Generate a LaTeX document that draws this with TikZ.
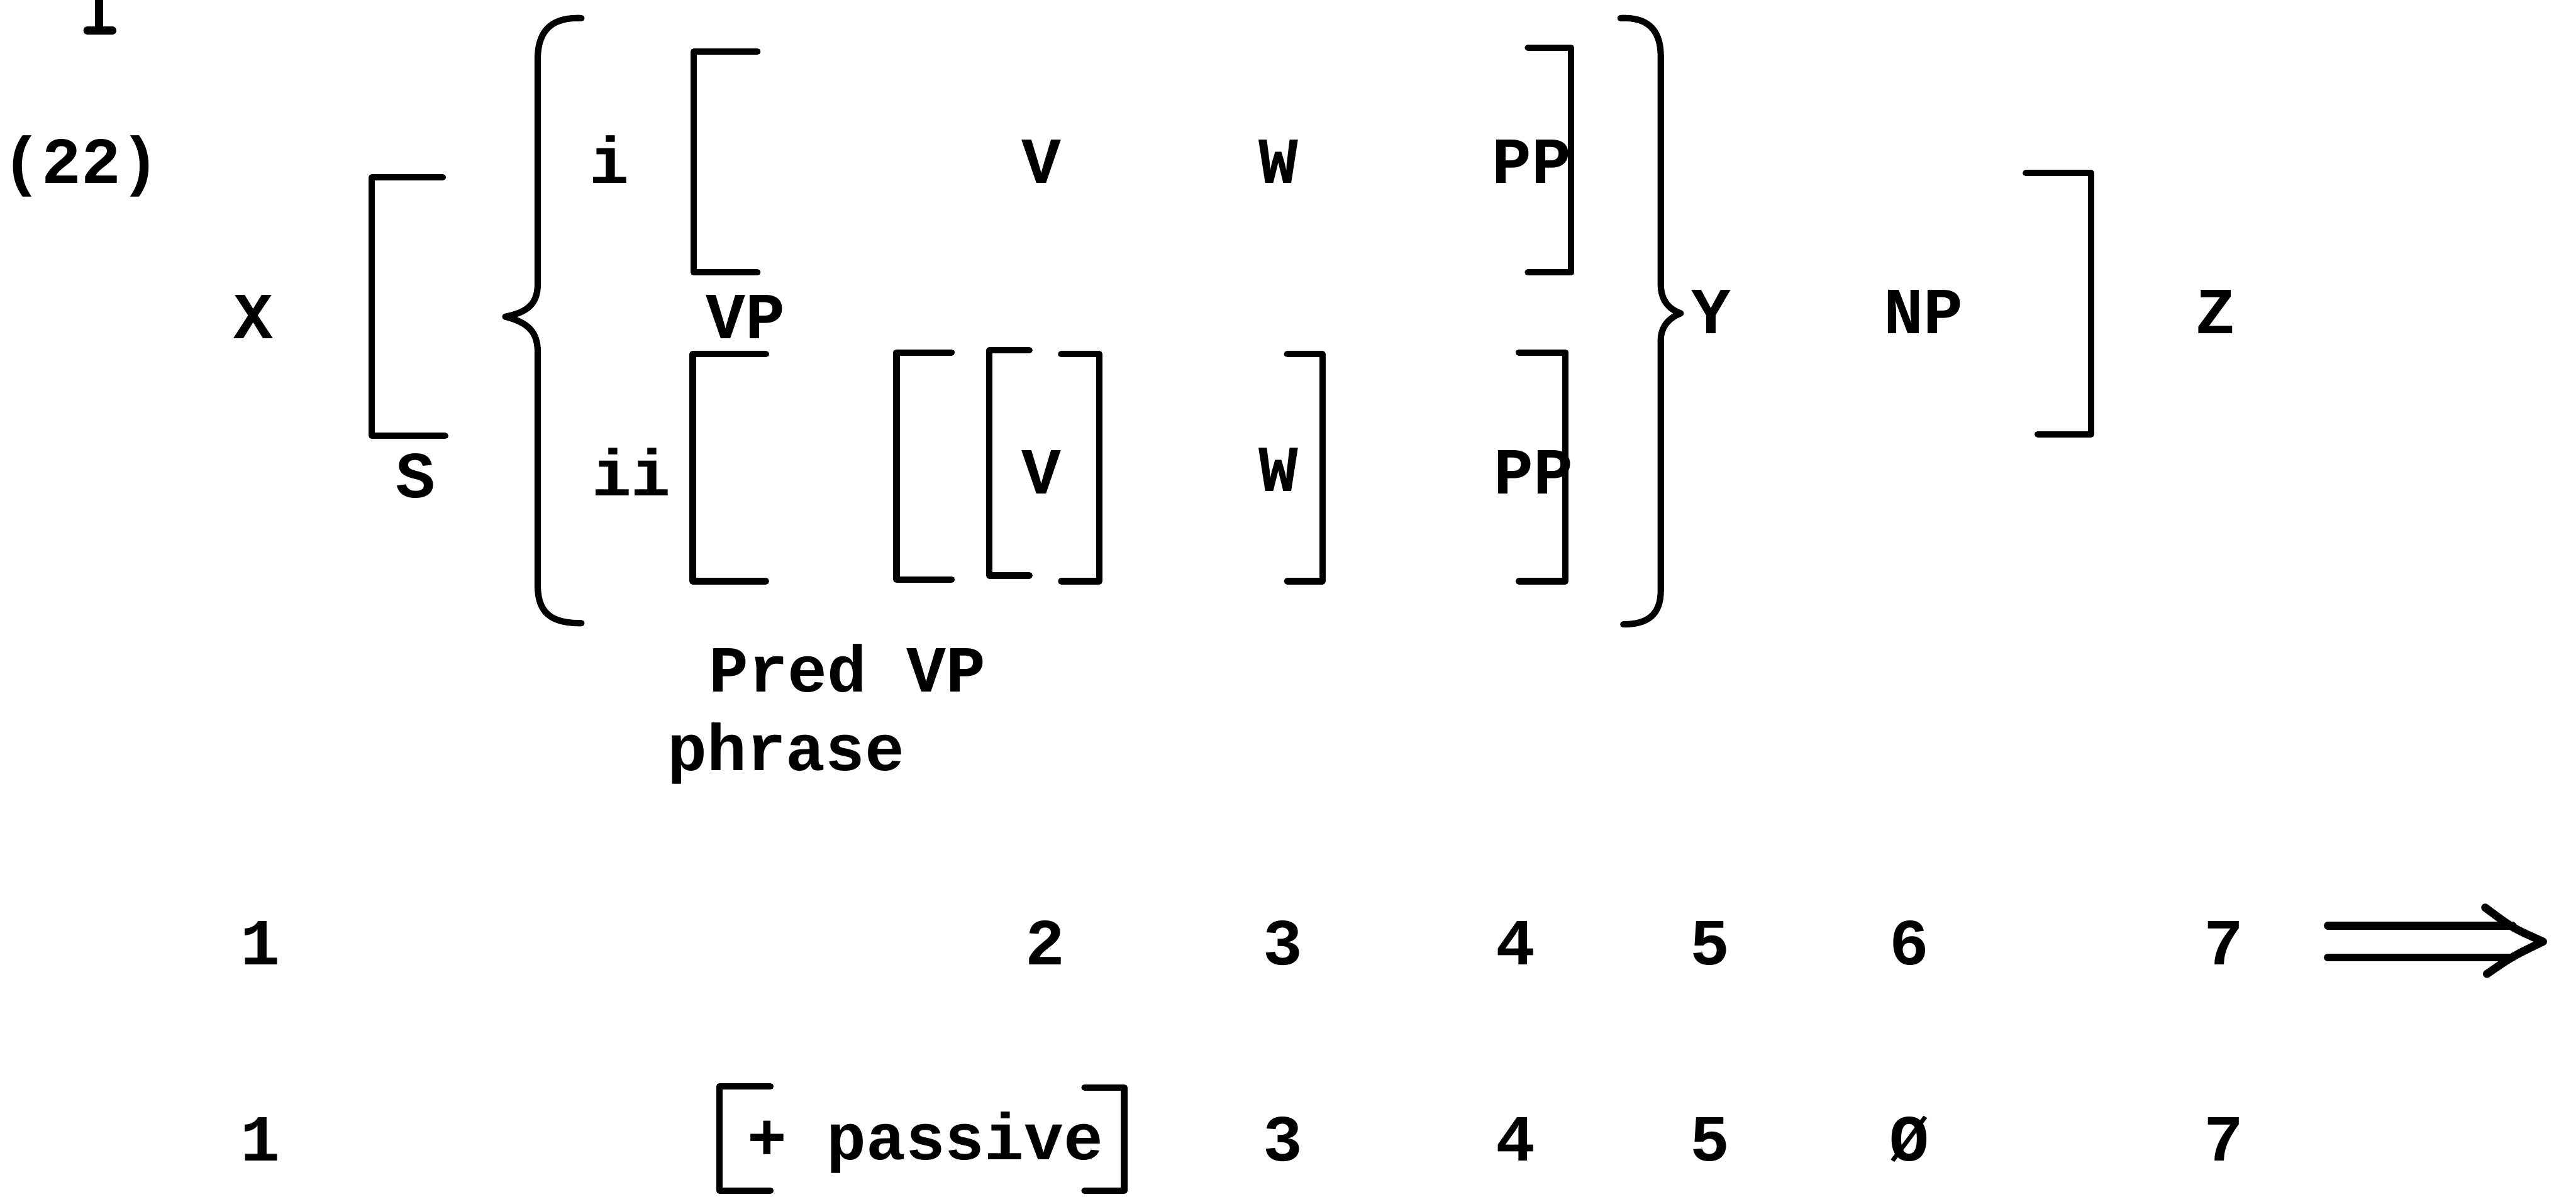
\documentclass[tikz,border=0pt]{standalone}
\usepackage{fontspec}
\setmonofont{Liberation Mono}
\usepackage{tikz}

\begin{document}
\begin{tikzpicture}[x=1cm, y=1cm]
    \tikzstyle{sym} = [font=\ttfamily\bfseries\fontsize{33}{40}\selectfont, inner sep=0pt, anchor=base]
    \tikzstyle{lbl} = [sym, anchor=base west]
    \tikzstyle{brk} = [line width=3.2pt, line cap=round, line join=round]
    \tikzstyle{dbl} = [line width=4pt, line cap=round, line join=round]

    \fill[white] (0,0) rectangle (45.37,-21.08);
    \useasboundingbox (0,0) rectangle (45.37,-21.08);

    % foot of the line above
    \draw [dbl] (1.745,0.10) -- (1.745,-0.50);
    \draw [dbl] (1.54,-0.54) -- (1.98,-0.54);

    % structural description
    \node [sym] (num) at (1.43,-3.23) {(22)};
    \node [sym] (x) at (4.46,-5.96) {X};
    \node [sym] (s) at (7.32,-8.77) {S};
    \node [sym] (i) at (10.73,-3.23) {i};
    \node [sym] (ii) at (11.12,-8.73) {ii};
    \node [sym] (vp) at (13.13,-5.96) {VP};
    \node [sym] (v1) at (18.34,-3.23) {V};
    \node [sym] (w1) at (22.52,-3.23) {W};
    \node [sym] (pp1) at (26.98,-3.23) {PP};
    \node [sym] (v2) at (18.34,-8.70) {V};
    \node [sym] (w2) at (22.52,-8.66) {W};
    \node [sym] (pp2) at (27.01,-8.70) {PP};
    \node [sym] (y) at (30.14,-5.88) {Y};
    \node [sym] (np) at (33.88,-5.88) {NP};
    \node [sym] (z) at (39.02,-5.88) {Z};
    \node [lbl] (pred) at (12.48,-12.19) {Pred VP};
    \node [lbl] (phrase) at (11.75,-13.57) {phrase};

    % brackets
    \draw [brk] (7.80,-3.12) -- (6.55,-3.12) -- (6.55,-7.68) -- (7.84,-7.68);
    \draw [brk] (13.34,-0.91) -- (12.22,-0.91) -- (12.22,-4.80) -- (13.34,-4.80);
    \draw [brk] (26.91,-0.84) -- (27.67,-0.84) -- (27.67,-4.80) -- (26.91,-4.80);
    \draw [brk] (13.49,-6.24) -- (12.20,-6.24) -- (12.20,-10.24) -- (13.49,-10.24);
    \draw [brk] (16.76,-6.21) -- (15.79,-6.21) -- (15.79,-10.21) -- (16.76,-10.21);
    \draw [brk] (18.13,-6.17) -- (17.42,-6.17) -- (17.42,-10.14) -- (18.13,-10.14);
    \draw [brk] (18.69,-6.24) -- (19.36,-6.24) -- (19.36,-10.24) -- (18.69,-10.24);
    \draw [brk] (22.67,-6.24) -- (23.29,-6.24) -- (23.29,-10.24) -- (22.67,-10.24);
    \draw [brk] (26.75,-6.21) -- (27.57,-6.21) -- (27.57,-10.24) -- (26.75,-10.24);
    \draw [brk] (35.68,-3.05) -- (36.83,-3.05) -- (36.83,-7.65) -- (35.89,-7.65);

    % braces
    \draw [brk] (10.24,-0.32) .. controls (9.70,-0.30) and (9.47,-0.55) .. (9.47,-1.05)
        -- (9.47,-5.00) .. controls (9.47,-5.35) and (9.30,-5.50) .. (8.90,-5.58)
        .. controls (9.30,-5.68) and (9.47,-5.85) .. (9.47,-6.20)
        -- (9.47,-10.30) .. controls (9.47,-10.80) and (9.70,-10.98) .. (10.24,-10.98);
    \draw [brk] (28.54,-0.32) .. controls (29.00,-0.30) and (29.25,-0.50) .. (29.25,-1.00)
        -- (29.25,-5.00) .. controls (29.25,-5.30) and (29.40,-5.45) .. (29.60,-5.52)
        .. controls (29.40,-5.60) and (29.25,-5.75) .. (29.25,-6.00)
        -- (29.25,-10.40) .. controls (29.25,-10.85) and (29.00,-11.00) .. (28.59,-11.00);

    % change: input row
    \node [sym] (a1) at (4.58,-17.00) {1};
    \node [sym] (a2) at (18.41,-17.00) {2};
    \node [sym] (a3) at (22.59,-17.00) {3};
    \node [sym] (a4) at (26.69,-17.00) {4};
    \node [sym] (a5) at (30.12,-17.00) {5};
    \node [sym] (a6) at (33.63,-17.00) {6};
    \node [sym] (a7) at (39.17,-17.00) {7};

    % change: output row
    \node [sym] (b1) at (4.58,-20.45) {1};
    \node [sym] (pass) at (16.30,-20.43) {+ passive};
    \node [sym] (b3) at (22.59,-20.45) {3};
    \node [sym] (b4) at (26.69,-20.45) {4};
    \node [sym] (b5) at (30.12,-20.45) {5};
    \node [sym] (b6) at (33.63,-20.45) {Ø};
    \node [sym] (b7) at (39.17,-20.45) {7};
    \draw [brk] (13.57,-19.14) -- (12.67,-19.14) -- (12.67,-20.98) -- (13.57,-20.98);
    \draw [brk] (19.10,-19.16) -- (19.80,-19.16) -- (19.80,-20.98) -- (19.10,-20.98);

    % rewrite arrow
    \coordinate (tail) at (41.00,-16.59);
    \coordinate (tip) at (44.79,-16.59);
    \draw [dbl] ([yshift=0.28cm]tail) -- ++(3.25,0);
    \draw [dbl] ([yshift=-0.28cm]tail) -- ++(3.25,0);
    \draw [dbl] (43.77,-15.99) .. controls (44.25,-16.35) .. (tip)
        .. controls (44.25,-16.85) .. (43.80,-17.16);
\end{tikzpicture}
\end{document}
